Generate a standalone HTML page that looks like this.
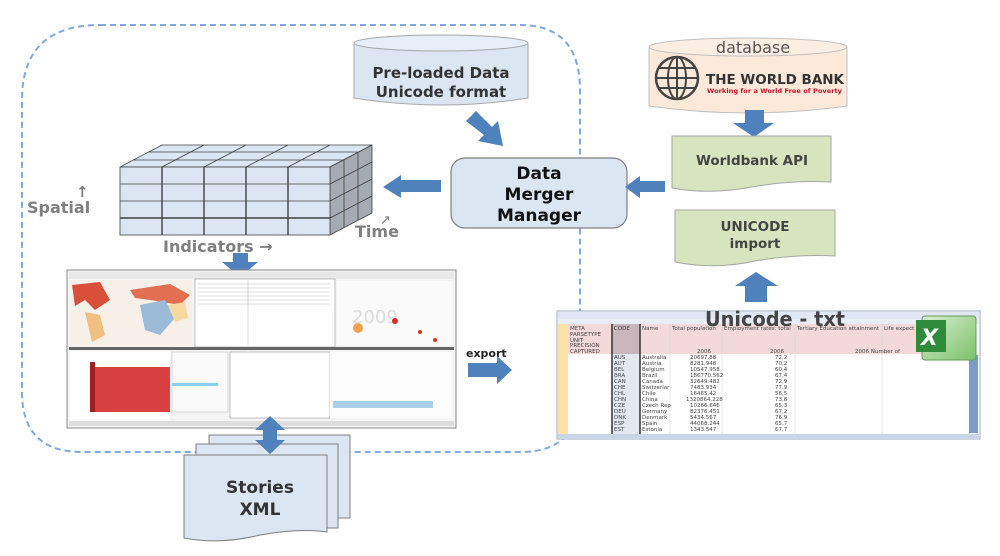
<!DOCTYPE html>
<html><head><meta charset="utf-8"><style>
html,body{margin:0;padding:0;background:#fff;width:1000px;height:556px;overflow:hidden}
svg{display:block}
text{font-family:"DejaVu Sans","Liberation Sans",sans-serif}
</style></head><body>
<svg width="1000" height="556" viewBox="0 0 1000 556" xmlns="http://www.w3.org/2000/svg">
<defs>
<linearGradient id="xl" x1="0" y1="0" x2="1" y2="1"><stop offset="0" stop-color="#d8efd0"/><stop offset="1" stop-color="#7cc06a"/></linearGradient>
</defs>
<!-- dashed region -->
<path d="M100,25 L520,25 Q580,25 580,90 L580,392 Q580,452 520,452 L82,452 Q22,452 22,392 L22,100 Q22,25 100,25 Z" fill="none" stroke="#7fa9e0" stroke-width="2" stroke-dasharray="6,4"/>

<!-- Pre-loaded cylinder -->
<path d="M354,43 L354,98 Q441,112 528,98 L528,43" fill="#dce6f2" stroke="#a6a6a6"/>
<ellipse cx="441" cy="43" rx="87" ry="8" fill="#e6eef8" stroke="#a6a6a6"/>
<text x="441" y="78" font-size="15" font-weight="bold" fill="#333" text-anchor="middle">Pre-loaded Data</text>
<text x="441" y="97" font-size="15" font-weight="bold" fill="#333" text-anchor="middle">Unicode format</text>

<!-- diagonal arrow -->
<polygon points="466,121 476,111 492,127 498,121 503,146 478,141 484,135" fill="#4f81bd"/>

<!-- Data Merger Manager -->
<rect x="451" y="158" width="176" height="70" rx="14" fill="#dce6f2" stroke="#7f7f7f" stroke-width="1.2"/>
<text x="539" y="179" font-size="17" font-weight="bold" fill="#111" text-anchor="middle">Data</text>
<text x="539" y="200" font-size="17" font-weight="bold" fill="#111" text-anchor="middle">Merger</text>
<text x="539" y="221" font-size="17" font-weight="bold" fill="#111" text-anchor="middle">Manager</text>

<!-- arrows left -->
<polygon points="441,180 401,180 401,175 383,187 401,198 401,192 441,192" fill="#4f81bd"/>
<polygon points="665,181 640,181 640,176 625,187 640,198 640,192 665,192" fill="#4f81bd"/>

<!-- cube -->
<g stroke="#404040" stroke-width="0.8">
<polygon points="120,167 330,167 372,145 162,145" fill="#dce6f2"/>
<polygon points="330,167 372,145 372,213 330,235" fill="#a6aab2"/>
<rect x="120" y="167" width="210" height="68" fill="#dce6f2"/>
<line x1="162" y1="167" x2="162" y2="235" stroke-width="1.4"/><line x1="204" y1="167" x2="204" y2="235" stroke-width="1.4"/><line x1="246" y1="167" x2="246" y2="235" stroke-width="1.4"/><line x1="288" y1="167" x2="288" y2="235" stroke-width="1.4"/>
<line x1="120" y1="184" x2="330" y2="184"/><line x1="120" y1="201" x2="330" y2="201"/><line x1="120" y1="218" x2="330" y2="218" stroke-width="1.4"/>
<line x1="162" y1="167" x2="204" y2="145"/><line x1="204" y1="167" x2="246" y2="145"/><line x1="246" y1="167" x2="288" y2="145"/><line x1="288" y1="167" x2="330" y2="145"/>
<line x1="134" y1="160" x2="344" y2="160"/><line x1="148" y1="152" x2="358" y2="152"/>
<line x1="344" y1="160" x2="344" y2="228"/><line x1="358" y1="152" x2="358" y2="220"/>
<line x1="330" y1="184" x2="372" y2="162"/><line x1="330" y1="201" x2="372" y2="179"/><line x1="330" y1="218" x2="372" y2="196"/>
</g>
<text x="27" y="213" font-size="16" font-weight="bold" fill="#7f7f7f">Spatial</text>
<text x="76" y="197" font-size="15" font-weight="bold" fill="#7f7f7f">↑</text>
<text x="355" y="237" font-size="16" font-weight="bold" fill="#7f7f7f">Time</text>
<text x="380" y="224" font-size="13" fill="#7f7f7f">↗</text>
<text x="163" y="252" font-size="16" font-weight="bold" fill="#7f7f7f">Indicators →</text>

<!-- down arrow to screenshot -->
<polygon points="233,253 248,253 248,262 258,262 240,277 222,262 233,262" fill="#4f81bd"/>

<!-- screenshot -->
<rect x="67" y="270" width="389" height="158" fill="#f4f4f4" stroke="#888"/>
<rect x="69" y="272" width="385" height="7" fill="#e8e8e8"/>
<rect x="70" y="280" width="122" height="65" fill="#f7f0e8"/>
<path d="M72,285 L100,282 L110,300 L95,310 L85,300 L75,306 Z" fill="#d9503a"/>
<path d="M130,290 L170,284 L190,295 L180,305 L150,300 L135,298 Z" fill="#e27050"/>
<path d="M140,305 L165,300 L175,318 L160,335 L145,330 Z" fill="#9bbad8"/>
<path d="M85,312 L100,315 L105,335 L92,342 L88,325 Z" fill="#f0c080"/>
<path d="M168,305 L185,302 L188,318 L175,322 Z" fill="#f5d9a0"/>
<rect x="195" y="279" width="140" height="68" fill="#fff" stroke="#999" stroke-width="0.6"/>
<g stroke="#bbb" stroke-width="0.5"><line x1="198" y1="284" x2="330" y2="284"/><line x1="198" y1="288" x2="330" y2="288"/><line x1="198" y1="292" x2="330" y2="292"/><line x1="198" y1="296" x2="330" y2="296"/><line x1="198" y1="300" x2="330" y2="300"/><line x1="198" y1="304" x2="330" y2="304"/><line x1="248" y1="280" x2="248" y2="345"/></g>
<rect x="337" y="281" width="115" height="64" fill="#fafafa"/>
<text x="352" y="323" font-size="18" fill="#ddd">2009</text>
<circle cx="358" cy="328" r="5" fill="#f0a050"/><circle cx="395" cy="321" r="3" fill="#d03020"/><circle cx="420" cy="332" r="2" fill="#e03020"/><circle cx="435" cy="340" r="2" fill="#e03020"/>
<rect x="69" y="347" width="385" height="3" fill="#666"/>
<rect x="70" y="351" width="100" height="70" fill="#fff"/>
<rect x="90" y="362" width="5" height="50" fill="#a02020"/>
<rect x="95" y="367" width="75" height="45" fill="#d84040"/>
<rect x="230" y="352" width="100" height="66" fill="#fff" stroke="#999" stroke-width="0.6"/>
<rect x="172" y="352" width="56" height="60" fill="#fafafa" stroke="#bbb" stroke-width="0.5"/>
<rect x="172" y="383" width="46" height="3" fill="#8ecfef"/>
<rect x="330" y="352" width="122" height="66" fill="#fcfcfc"/>
<rect x="333" y="401" width="100" height="7" fill="#a9d0e8"/>
<rect x="69" y="421" width="385" height="5" fill="#ddd"/>

<!-- stories stack -->
<rect x="209" y="435" width="141" height="83" fill="#dce6f2" stroke="#7f7f7f"/>
<rect x="196" y="444" width="142" height="84" fill="#dce6f2" stroke="#7f7f7f"/>
<path d="M184,455 L327,455 L327,532 Q300,528 260,535 Q220,545 184,538 Z" fill="#dce6f2" stroke="#7f7f7f"/>
<text x="260" y="493" font-size="17" font-weight="bold" fill="#333" text-anchor="middle">Stories</text>
<text x="260" y="515" font-size="17" font-weight="bold" fill="#333" text-anchor="middle">XML</text>
<polygon points="270,416 285,430 277,430 277,440 285,440 270,454 255,440 263,440 263,430 255,430" fill="#4f81bd"/>

<!-- export -->
<text x="466" y="357" font-size="11" font-weight="bold" fill="#222">export</text>
<polygon points="468,363 497,363 497,356 512,370 497,384 497,377 468,377" fill="#4f81bd"/>

<!-- World bank cylinder -->
<path d="M649,47 L649,106 Q748,120 847,106 L847,47" fill="#fde9d9" stroke="#c0c0c0"/>
<ellipse cx="748" cy="47" rx="99" ry="9" fill="#fdeee3" stroke="#c0c0c0"/>
<text x="753" y="53" font-size="16" fill="#555" text-anchor="middle">database</text>
<circle cx="677" cy="78" r="21" fill="none" stroke="#444" stroke-width="2.5"/>
<ellipse cx="677" cy="78" rx="9" ry="21" fill="none" stroke="#444" stroke-width="2"/>
<line x1="656" y1="78" x2="698" y2="78" stroke="#444" stroke-width="2"/><line x1="659" y1="68" x2="695" y2="68" stroke="#444" stroke-width="2"/><line x1="659" y1="88" x2="695" y2="88" stroke="#444" stroke-width="2"/><line x1="677" y1="57" x2="677" y2="99" stroke="#444" stroke-width="2"/>
<text x="706" y="84" font-size="13.5" font-weight="bold" fill="#333" textLength="138" lengthAdjust="spacingAndGlyphs">THE WORLD BANK</text>
<text x="707" y="93" font-size="6" font-weight="bold" fill="#c8102e" textLength="135" lengthAdjust="spacingAndGlyphs">Working for a World Free of Poverty</text>

<polygon points="745,110 764,110 764,123 774,123 754,137 733,123 745,123" fill="#4f81bd"/>

<!-- Worldbank API -->
<path d="M672,136 L831,136 L831,182 Q790,180 752,187 Q710,195 672,188 Z" fill="#d7e4bd" stroke="#a6a6a6"/>
<text x="752" y="165" font-size="13.5" font-weight="bold" fill="#444" text-anchor="middle">Worldbank API</text>
<!-- UNICODE import -->
<path d="M675,210 L835,210 L835,256 Q795,254 755,261 Q715,270 675,262 Z" fill="#d7e4bd" stroke="#a6a6a6"/>
<text x="755" y="231" font-size="13.5" font-weight="bold" fill="#444" text-anchor="middle">UNICODE</text>
<text x="755" y="248" font-size="13.5" font-weight="bold" fill="#444" text-anchor="middle">import</text>

<polygon points="756,272 778,286 767,286 767,302 745,302 745,286 735,286" fill="#4f81bd"/>

<!-- spreadsheet -->
<rect x="557" y="311" width="423" height="128" fill="#fff" stroke="#9ab" />
<rect x="558" y="312" width="421" height="7" fill="#dfe8f4"/>
<rect x="558" y="319" width="421" height="5" fill="#e8eef6"/>
<rect x="558" y="324" width="365" height="30" fill="#f3d9d9"/>
<rect x="558" y="324" width="10" height="112" fill="#fbe3a8"/>
<rect x="612" y="324" width="28" height="30" fill="#c9b6bc"/>
<rect x="612" y="354" width="28" height="80" fill="#e4e8f0"/>
<line x1="612" y1="324" x2="612" y2="434" stroke="#333" stroke-width="1.5"/>
<line x1="640" y1="324" x2="640" y2="434" stroke="#333" stroke-width="1.5"/>
<g stroke="#d0d0d0" stroke-width="0.5">
<line x1="670" y1="324" x2="670" y2="434"/><line x1="722" y1="324" x2="722" y2="434"/><line x1="795" y1="324" x2="795" y2="434"/><line x1="882" y1="324" x2="882" y2="434"/>
</g>
<g font-size="5.5" fill="#444">
<text x="570" y="330">META</text><text x="570" y="336">PARSETYPE</text><text x="570" y="342">UNIT</text><text x="570" y="347">PRECISION</text><text x="570" y="353">CAPTURED</text>
<text x="614" y="330">CODE</text><text x="642" y="330">Name</text><text x="672" y="330">Total population</text><text x="724" y="330">Employment rates: total</text><text x="797" y="330">Tertiary Education attainment</text><text x="884" y="330">Life expect</text>
<text x="697" y="353">2006</text><text x="770" y="353">2006</text><text x="855" y="353">2006 Number of</text>
<text x="614" y="359">AUS</text><text x="642" y="359">Australia</text><text x="690" y="359">20697.88</text><text x="775" y="359">72,2</text>
<text x="614" y="365">AUT</text><text x="642" y="365">Austria</text><text x="690" y="365">8281.948</text><text x="775" y="365">70,2</text>
<text x="614" y="371">BEL</text><text x="642" y="371">Belgium</text><text x="690" y="371">10547.958</text><text x="775" y="371">60,4</text>
<text x="614" y="377">BRA</text><text x="642" y="377">Brazil</text><text x="690" y="377">186770.562</text><text x="775" y="377">67,4</text>
<text x="614" y="383">CAN</text><text x="642" y="383">Canada</text><text x="690" y="383">32649.482</text><text x="775" y="383">72,9</text>
<text x="614" y="389">CHE</text><text x="642" y="389">Switzerlar</text><text x="690" y="389">7483.934</text><text x="775" y="389">77,9</text>
<text x="614" y="395">CHL</text><text x="642" y="395">Chile</text><text x="690" y="395">16465.42</text><text x="775" y="395">56,5</text>
<text x="614" y="401">CHN</text><text x="642" y="401">China</text><text x="686" y="401">1320864.228</text><text x="775" y="401">73,8</text>
<text x="614" y="407">CZE</text><text x="642" y="407">Czech Rep</text><text x="690" y="407">10266.646</text><text x="775" y="407">65,3</text>
<text x="614" y="413">DEU</text><text x="642" y="413">Germany</text><text x="690" y="413">82376.451</text><text x="775" y="413">67,2</text>
<text x="614" y="419">DNK</text><text x="642" y="419">Denmark</text><text x="690" y="419">5434.567</text><text x="775" y="419">76,9</text>
<text x="614" y="425">ESP</text><text x="642" y="425">Spain</text><text x="690" y="425">44068.244</text><text x="775" y="425">65,7</text>
<text x="614" y="431">EST</text><text x="642" y="431">Estonia</text><text x="690" y="431">1343.547</text><text x="775" y="431">67,7</text>
</g>
<rect x="558" y="434" width="421" height="5" fill="#c8d6e8"/>
<rect x="969" y="355" width="9" height="78" fill="#7a9cc8"/>
<text x="705" y="326" font-size="20" font-weight="bold" fill="#444" textLength="140" lengthAdjust="spacingAndGlyphs">Unicode - txt</text>
<!-- excel icon -->
<rect x="922" y="316" width="54" height="44" rx="3" fill="url(#xl)" stroke="#6a9a5a"/>
<rect x="916" y="320" width="30" height="32" fill="#2f8a3a"/>
<text x="921" y="345" font-size="22" font-weight="bold" fill="#fff" font-style="italic">X</text>
</svg>
</body></html>
